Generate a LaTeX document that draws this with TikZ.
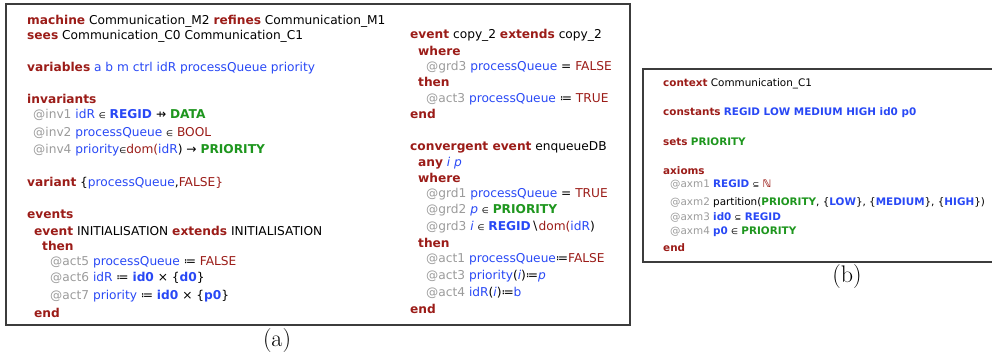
\documentclass[tikz,border=0pt]{standalone}
\usepackage{fontspec}
\newfontfamily\dv{DejaVu Sans}
\definecolor{kwred}{RGB}{155,28,24}
\definecolor{idblue}{RGB}{40,72,245}
\definecolor{stgreen}{RGB}{30,150,30}
\definecolor{lbgray}{RGB}{155,155,155}
\definecolor{boxgray}{RGB}{60,60,60}
\newcommand{\kw}[1]{{\bfseries\color{kwred}#1}}
\newcommand{\vr}[1]{{\color{idblue}#1}}
\newcommand{\cst}[1]{{\bfseries\color{idblue}#1}}
\newcommand{\sts}[1]{{\bfseries\color{stgreen}#1}}
\newcommand{\lb}[1]{{\color{lbgray}#1}}
\newcommand{\rdd}[1]{{\color{kwred}#1}}
\newcommand{\sm}[1]{{\fontsize{8}{9}\selectfont #1}}
\begin{document}
\begin{tikzpicture}[x=1pt,y=-1pt,
  ta/.style={anchor=west,inner sep=0pt,font=\dv\fontsize{12.2}{14}\selectfont},
  tb/.style={anchor=west,inner sep=0pt,font=\dv\fontsize{10.4}{12}\selectfont},
  boxline/.style={draw=boxgray,line width=1.1pt},
  captext/.style={inner sep=0pt,font=\fontsize{24}{28}\selectfont}]
\useasboundingbox (0,0) rectangle (992,358);
\draw[boxline] (6,4) rectangle (630,325);
\draw[boxline] (1000,69) -- (643,69) -- (643,262) -- (1000,262);
% left column
\node[ta] (m1) at (27,21) {\kw{machine} Communication\_M2 \kw{refines} Communication\_M1};
\node[ta] (m2) at (27,36) {\kw{sees} Communication\_C0 Communication\_C1};
\node[ta] (m3) at (27,68) {\kw{variables} \vr{a b m ctrl idR processQueue priority}};
\node[ta] (m4) at (27,99) {\kw{invariants}};
\node[ta] (m5) at (33,115) {\lb{@inv1} \vr{idR} \sm{∈} \cst{REGID} ⇸ \sts{DATA}};
\node[ta] (m6) at (33,133) {\lb{@inv2} \vr{processQueue} \sm{∈} \rdd{BOOL}};
\node[ta] (m7) at (33,150) {\lb{@inv4} \vr{priority}\sm{∈}\rdd{dom(}\vr{idR}) → \sts{PRIORITY}};
\node[ta] (m8) at (27,183) {\kw{variant} \{\vr{processQueue},\rdd{FALSE\}}};
\node[ta] (m9) at (27,214) {\kw{events}};
\node[ta] (m10) at (34,231) {\kw{event} INITIALISATION \kw{extends} INITIALISATION};
\node[ta] (m11) at (42,246) {\kw{then}};
\node[ta] (m12) at (50,262) {\lb{@act5} \vr{processQueue} ≔ \rdd{FALSE}};
\node[ta] (m13) at (50,278) {\lb{@act6} \vr{idR} ≔ \cst{id0} × \{\cst{d0}\}};
\node[ta] (m14) at (50,296) {\lb{@act7} \vr{priority} ≔ \cst{id0} × \{\cst{p0}\}};
\node[ta] (m15) at (34,313) {\kw{end}};
% right column
\node[ta] (r1) at (410,35) {\kw{event} copy\_2 \kw{extends} copy\_2};
\node[ta] (r2) at (418,51) {\kw{where}};
\node[ta] (r3) at (426,67) {\lb{@grd3} \vr{processQueue} = \rdd{FALSE}};
\node[ta] (r4) at (418,82) {\kw{then}};
\node[ta] (r5) at (426,99) {\lb{@act3} \vr{processQueue} ≔ \rdd{TRUE}};
\node[ta] (r6) at (410,114) {\kw{end}};
\node[ta] (r7) at (410,147) {\kw{convergent event} enqueueDB};
\node[ta] (r8) at (418,163) {\kw{any} \vr{\itshape i p}};
\node[ta] (r9) at (418,178) {\kw{where}};
\node[ta] (r10) at (426,194) {\lb{@grd1} \vr{processQueue} = \rdd{TRUE}};
\node[ta] (r11) at (426,210) {\lb{@grd2} \vr{\itshape p} \sm{∈} \sts{PRIORITY}};
\node[ta] (r12) at (426,227) {\lb{@grd3} \vr{\itshape i} \sm{∈} \cst{REGID}∖\rdd{dom(}\vr{idR})};
\node[ta] (r13) at (418,243) {\kw{then}};
\node[ta] (r14) at (426,259) {\lb{@act1} \vr{processQueue}≔\rdd{FALSE}};
\node[ta] (r15) at (426,276) {\lb{@act3} \vr{priority}(\vr{\itshape i})≔\vr{\itshape p}};
\node[ta] (r16) at (426,293) {\lb{@act4} \vr{idR}(\vr{\itshape i})≔\vr{b}};
\node[ta] (r17) at (410,309) {\kw{end}};
% context box
\node[tb] (c1) at (663,84) {\kw{context} Communication\_C1};
\node[tb] (c2) at (663,113) {\kw{constants} \cst{REGID LOW MEDIUM HIGH id0 p0}};
\node[tb] (c3) at (663,142) {\kw{sets} \sts{PRIORITY}};
\node[tb] (c4) at (663,171) {\kw{axioms}};
\node[tb] (c5) at (670,185) {\lb{@axm1} \cst{REGID} \sm{⊆} {\bfseries\color{kwred}ℕ}};
\node[tb] (c6) at (670,203) {\lb{@axm2} partition(\sts{PRIORITY}, \{\cst{LOW}\}, \{\cst{MEDIUM}\}, \{\cst{HIGH}\})};
\node[tb] (c7) at (670,217) {\lb{@axm3} \cst{id0} \sm{⊆} \cst{REGID}};
\node[tb] (c8) at (670,232) {\lb{@axm4} \cst{p0} \sm{∈} \sts{PRIORITY}};
\node[tb] (c9) at (663,248) {\kw{end}};
% captions
\node[captext] (capa) at (277,341) {(a)};
\node[captext] (capb) at (847,277) {(b)};
\end{tikzpicture}
\end{document}
